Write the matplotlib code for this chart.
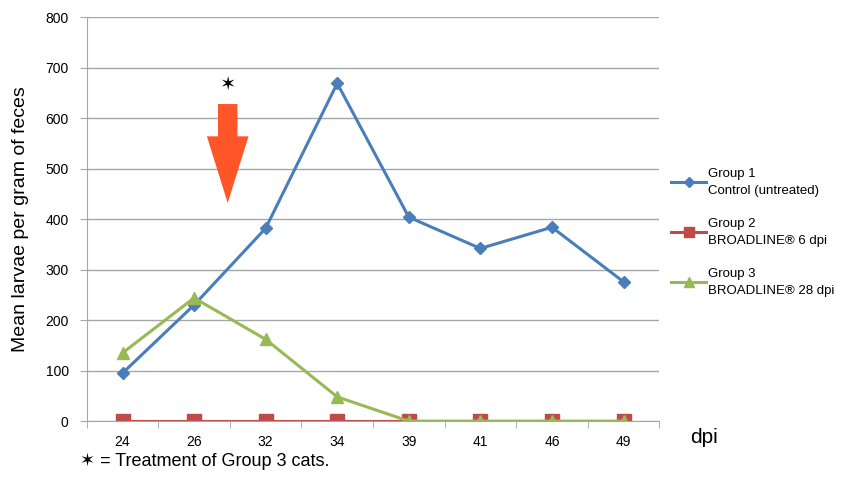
import numpy as np
import matplotlib.pyplot as plt

days = ['24', '26', '32', '34', '39', '41', '46', '49']
group1 = [95, 230, 382, 669, 404, 342, 384, 276]
group2 = [0, 0, 0, 0, 0, 0, 0, 0]
group3 = [135, 244, 162, 48, 0, 0, 0, 0]

plt.rcParams['font.family'] = ['Liberation Sans', 'DejaVu Sans']

fig = plt.figure(figsize=(8.42, 4.78), dpi=100)
ax = fig.add_axes([0.103, 0.119, 0.68, 0.845])

x = np.arange(len(days)) + 0.5

ax.plot(x, group1, color='#4A7EBB', lw=2.2, marker='D', ms=6,
        label='Group 1\nControl (untreated)')
ax.plot(x, group2, color='#BE4B48', lw=2.2, marker='s', ms=9.5,
        label='Group 2\nBROADLINE® 6 dpi')
ax.plot(x, group3, color='#98B954', lw=2.2, marker='^', ms=9,
        label='Group 3\nBROADLINE® 28 dpi')

ax.set_xlim(0, len(days))
ax.set_ylim(0, 800)
ax.set_yticks(range(0, 801, 100))
ax.yaxis.grid(True, color='#A6A6A6', lw=1)
ax.set_axisbelow(True)

ax.set_xticks(x)
ax.set_xticklabels(days, fontsize=10)
ax.set_xticks(np.arange(len(days) + 1), minor=True)
ax.tick_params(axis='x', which='major', length=0, pad=10)
ax.tick_params(axis='x', which='minor', length=5, color='#A6A6A6')
ax.tick_params(axis='y', length=5, color='#A6A6A6', labelsize=10, pad=8)

for s in ['top', 'right']:
    ax.spines[s].set_visible(False)
ax.spines['left'].set_color('#A6A6A6')
ax.spines['bottom'].set_color('#A6A6A6')

ax.set_ylabel('Mean larvae per gram of feces', fontsize=14, labelpad=12)

# treatment arrow and star
ax.annotate('', xy=(1.97, 432), xytext=(1.97, 628),
            arrowprops=dict(facecolor='#FF5529', edgecolor='none',
                            width=14, headwidth=30, headlength=48))
ax.text(1.97, 667, '✶', fontsize=14, ha='center', va='center',
        family=['DejaVu Sans'])

fig.text(0.82, 0.065, 'dpi', fontsize=15, va='bottom')
fig.text(0.095, 0.025, '✶ = Treatment of Group 3 cats.', fontsize=13)

leg = ax.legend(loc='upper left', bbox_to_anchor=(1.005, 0.65), frameon=False,
                fontsize=9.5, handlelength=2.6, handletextpad=0.2,
                labelspacing=1.55, borderaxespad=0.3, markerscale=0.8)
for t in leg.get_texts():
    t.set_linespacing(1.6)

fig.savefig('out.png', dpi=100)
